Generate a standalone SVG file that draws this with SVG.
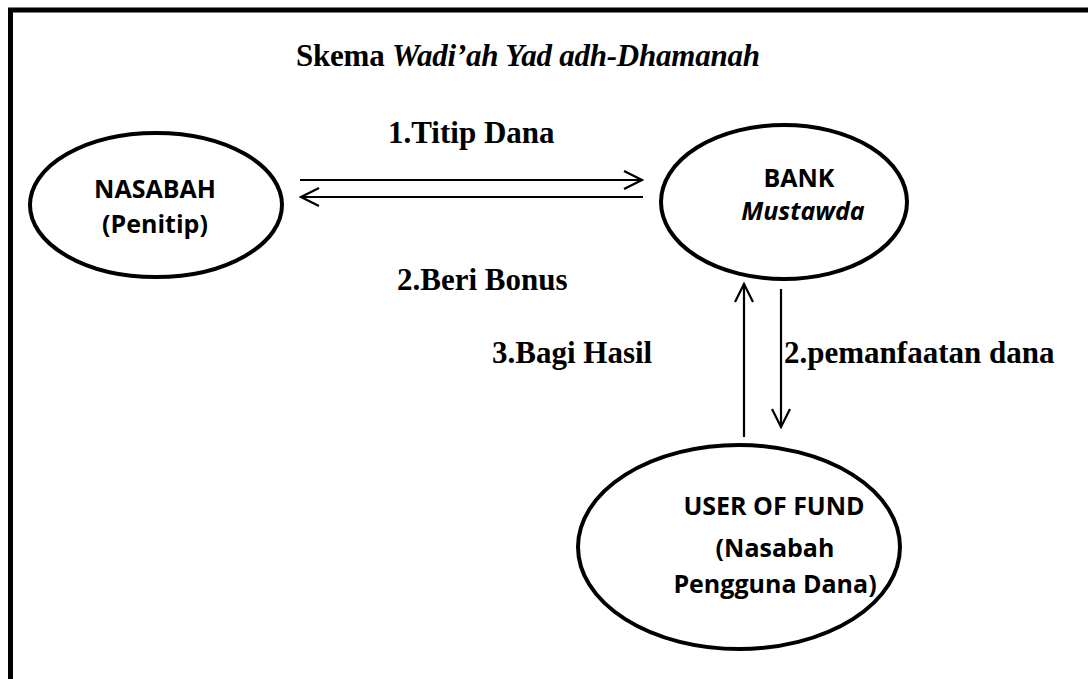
<svg xmlns="http://www.w3.org/2000/svg" width="1088" height="679" viewBox="0 0 1088 679">
<defs>
<style>
.frame{fill:none;stroke:#000;stroke-width:5}
.node{fill:#fff;stroke:#000;stroke-width:4}
.nt{font-family:"Open Sans","Noto Sans",sans-serif;font-weight:bold;font-size:25px;fill:#000;text-anchor:middle}
.lbl{font-family:"Liberation Serif","Times New Roman",serif;font-weight:bold;font-size:31px;fill:#000}
.ln{fill:none;stroke:#000;stroke-width:2.2}
</style>
<marker id="ah" viewBox="0 0 22 20" refX="20" refY="10" markerWidth="22" markerHeight="20" markerUnits="userSpaceOnUse" orient="auto">
<path d="M2,1 L20,10 L2,19" fill="none" stroke="#000" stroke-width="2.2"/>
</marker>
</defs>
<rect width="1088" height="679" fill="#fff"/>
<path class="frame" d="M10.5,684 V10 H1094"/>
<text class="lbl" x="296" y="66" textLength="464">Skema <tspan font-style="italic">Wadi’ah Yad adh-Dhamanah</tspan></text>
<g id="connectors">
<line class="ln" x1="300" y1="180" x2="642" y2="180" marker-end="url(#ah)"/>
<line class="ln" x1="643" y1="197" x2="301" y2="197" marker-end="url(#ah)"/>
<line class="ln" x1="744" y1="437" x2="744" y2="284" marker-end="url(#ah)"/>
<line class="ln" x1="781" y1="289" x2="781" y2="427" marker-end="url(#ah)"/>
<text class="lbl" x="388" y="143">1.Titip Dana</text>
<text class="lbl" x="397" y="290">2.Beri Bonus</text>
<text class="lbl" x="492" y="363">3.Bagi Hasil</text>
<text class="lbl" x="784" y="363">2.pemanfaatan dana</text>
</g>
<g id="nasabah">
<ellipse class="node" cx="156" cy="205" rx="126" ry="72"/>
<text class="nt" x="155" y="198">NASABAH</text>
<text class="nt" x="155" y="233">(Penitip)</text>
</g>
<g id="bank">
<ellipse class="node" cx="784" cy="202" rx="123" ry="77"/>
<text class="nt" x="799" y="187">BANK</text>
<text class="nt" x="803" y="220" font-style="italic">Mustawda</text>
</g>
<g id="user">
<ellipse class="node" cx="739" cy="547" rx="161" ry="102"/>
<text class="nt" x="774" y="515">USER OF FUND</text>
<text class="nt" x="775" y="557">(Nasabah</text>
<text class="nt" x="775" y="593">Pengguna Dana)</text>
</g>
</svg>
